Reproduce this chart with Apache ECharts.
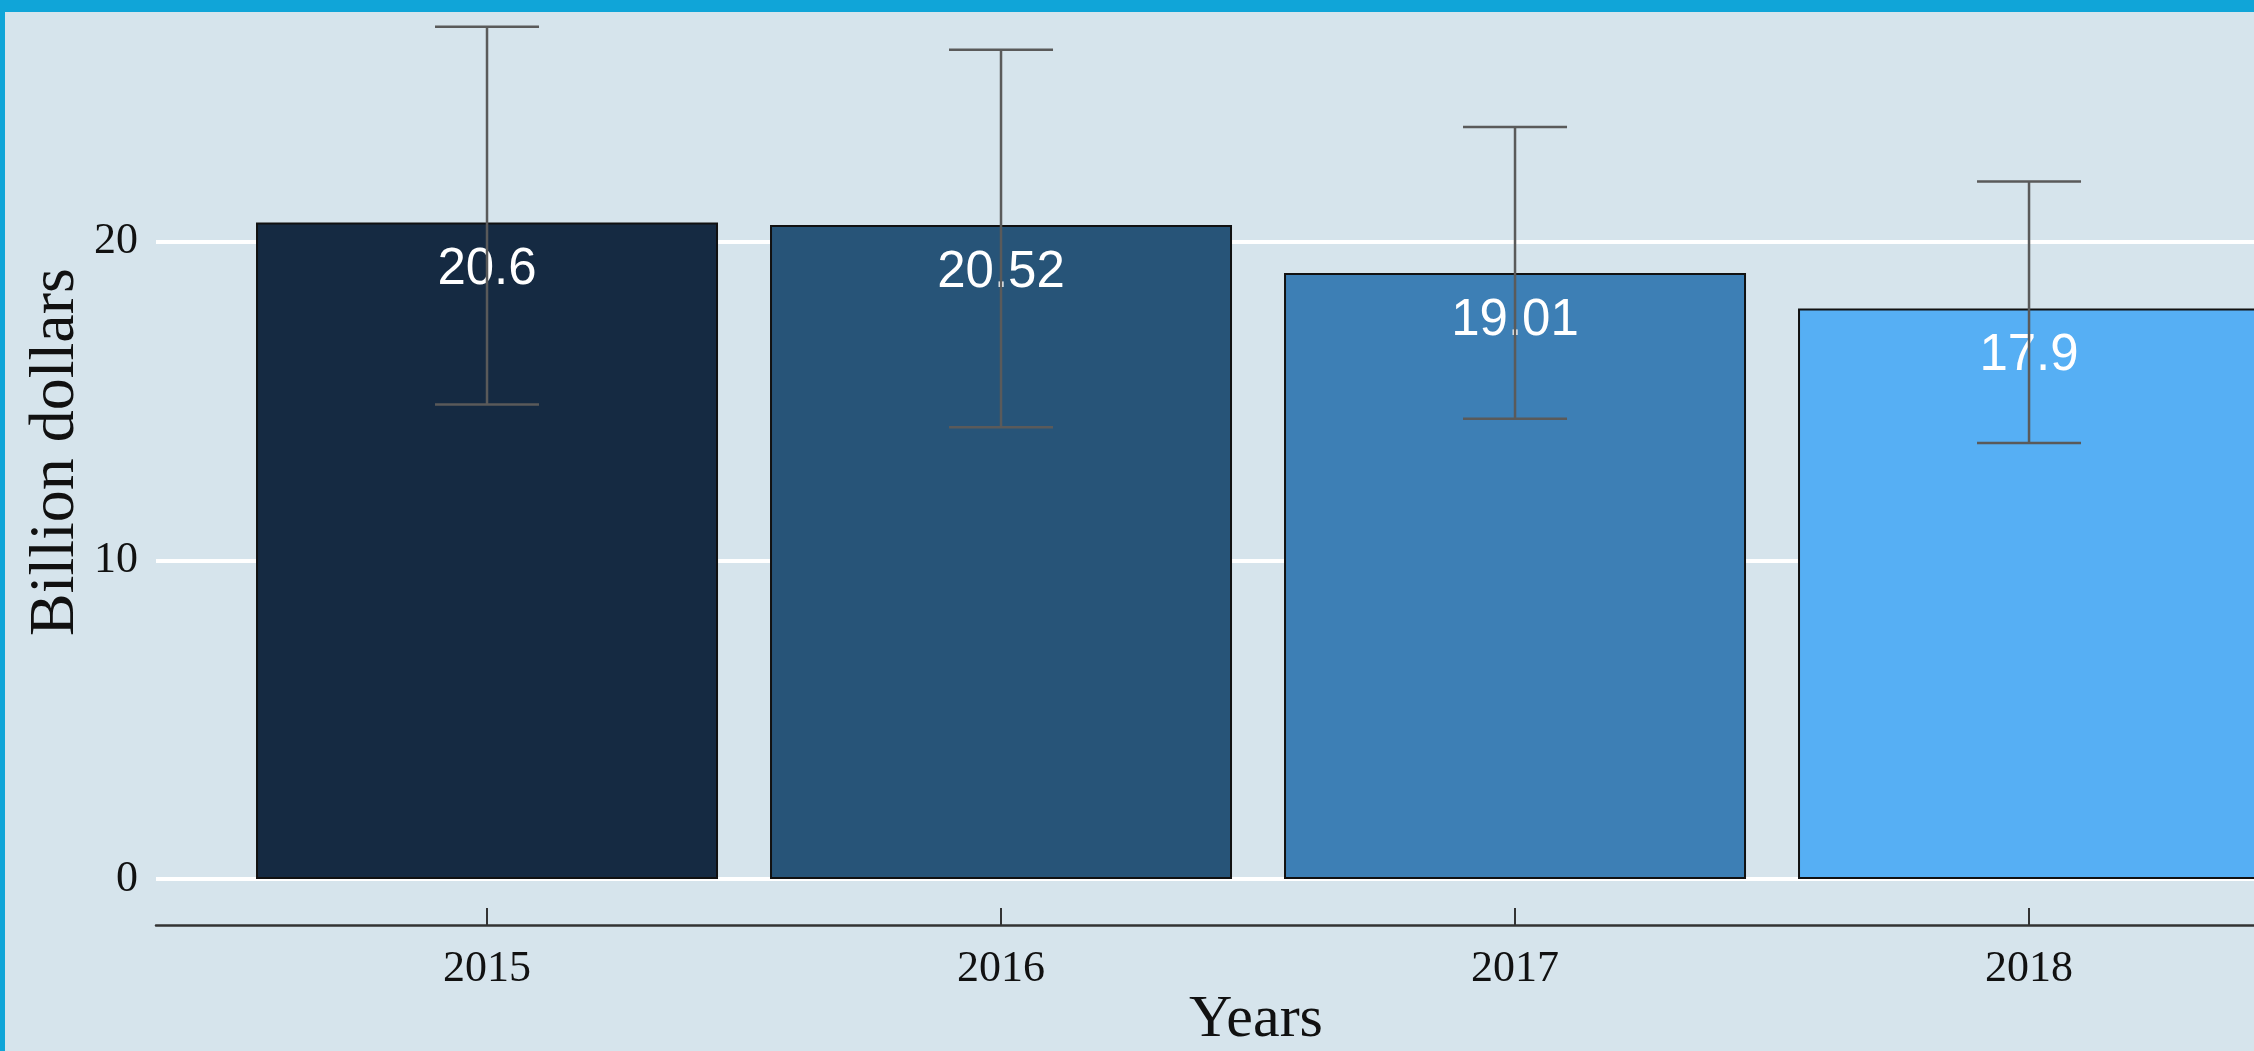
<!DOCTYPE html>
<html>

<head>
    <meta charset="UTF-8">
    <script src="https://cdn.jsdelivr.net/npm/echarts@6/dist/echarts.min.js"></script>
    <title>Billion dollars by year</title>
    <style>
        html,
        body {
            margin: 0;
            padding: 0;
        }

        #chart {
            width: 2254px;
            height: 1051px;
        }
    </style>
</head>

<body>
    <div id="chart"></div>
</body>

</html>
<script>
    // data
    var years = ['2015', '2016', '2017', '2018'];
    var values = [20.6, 20.52, 19.01, 17.9];
    var upper = [26.74, 26.02, 23.59, 21.88];
    var lower = [14.89, 14.17, 14.44, 13.68];
    var yTicks = [0, 10, 20];

    var barColors = ['#152a42', '#275478', '#3d7fb5', '#56aff4'];
    var serif = "'Liberation Serif', 'Times New Roman', serif";

    var barData = [], errData = [];
    for (var i = 0; i < years.length; i++) {
        barData.push({ value: [i, values[i]], itemStyle: { color: barColors[i] } });
        errData.push([i, upper[i], lower[i]]);
    }

    var chart = echarts.init(document.getElementById('chart'), null, { renderer: 'canvas' });

    var option = {
        backgroundColor: '#d6e4ec',
        animation: false,
        // top of panel sits under the blue frame, so the max split line is hidden
        grid: { left: 156, right: 0, top: 6, bottom: 172, outerBoundsMode: 'none' },
        xAxis: {
            type: 'value',
            min: -0.644,
            max: 3.4377,
            offset: 46,
            splitLine: { show: false },
            axisLine: { show: true, onZero: false, lineStyle: { color: '#333', width: 2.5 } },
            axisTick: { show: true, inside: true, length: 17, customValues: [0, 1, 2, 3], lineStyle: { color: '#333', width: 2 } },
            axisLabel: {
                customValues: [0, 1, 2, 3],
                margin: 22,
                color: '#111',
                fontSize: 44,
                fontFamily: serif,
                formatter: function (v) { return years[Math.round(v)]; }
            }
        },
        yAxis: {
            type: 'value',
            min: 0,
            max: 27.39,
            interval: 10,
            axisLine: { show: false, onZero: false },
            axisTick: { show: false },
            axisLabel: {
                margin: 18,
                color: '#111',
                fontSize: 44,
                fontFamily: serif,
                formatter: function (v) { return yTicks.indexOf(v) >= 0 ? String(v) : ''; }
            },
            splitLine: { lineStyle: { color: '#ffffff', width: 4 } }
        },
        series: [{
            type: 'bar',
            z: 2,
            barWidth: 462,
            data: barData,
            itemStyle: { borderColor: '#111', borderWidth: 2 },
            label: {
                show: true,
                position: 'insideTop',
                distance: 22,
                color: '#fff',
                fontSize: 51,
                fontFamily: "'Liberation Sans', Arial, sans-serif",
                formatter: function (p) { return String(values[p.dataIndex]); }
            }
        }, {
            type: 'custom',
            z: 5,
            data: errData,
            renderItem: function (params, api) {
                var top = api.coord([api.value(0), api.value(1)]);
                var bot = api.coord([api.value(0), api.value(2)]);
                var half = 52;
                var st = { stroke: '#5a5a5a', lineWidth: 2.5 };
                return {
                    type: 'group',
                    children: [
                        { type: 'line', shape: { x1: top[0], y1: top[1], x2: bot[0], y2: bot[1] }, style: st },
                        { type: 'line', shape: { x1: top[0] - half, y1: top[1], x2: top[0] + half, y2: top[1] }, style: st },
                        { type: 'line', shape: { x1: bot[0] - half, y1: bot[1], x2: bot[0] + half, y2: bot[1] }, style: st }
                    ]
                };
            }
        }],
        graphic: [
            {
                type: 'text', x: 1256, y: 1020, z: 10,
                style: { text: 'Years', fill: '#111', font: '60px ' + serif, textAlign: 'center', textVerticalAlign: 'middle' }
            },
            {
                type: 'text', x: 56, y: 452, rotation: Math.PI / 2, z: 10,
                style: { text: 'Billion dollars', fill: '#111', font: '64px ' + serif, textAlign: 'center', textVerticalAlign: 'middle' }
            },
            { type: 'rect', shape: { x: 0, y: 0, width: 2254, height: 12 }, style: { fill: '#10a5d8' }, z: 100 },
            { type: 'rect', shape: { x: 0, y: 0, width: 5, height: 1051 }, style: { fill: '#10a5d8' }, z: 100 }
        ]
    };

    chart.setOption(option);
</script>
